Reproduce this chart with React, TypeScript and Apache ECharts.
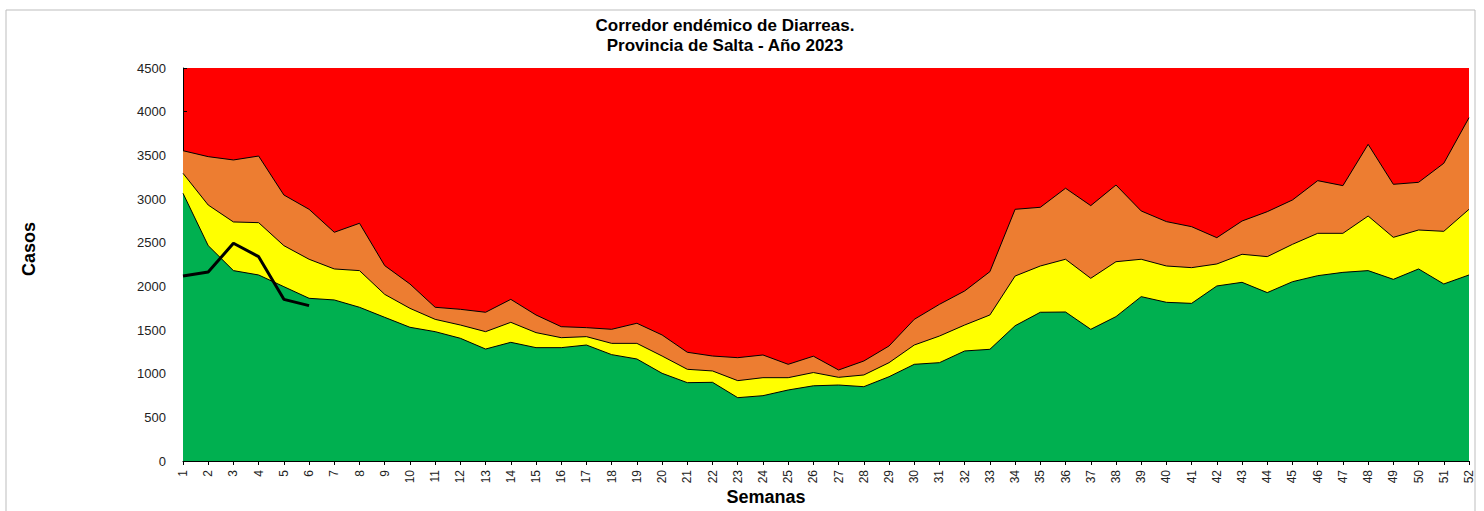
import React, { useEffect, useRef } from "react";
import * as echarts from "echarts";

const weeks: string[] = Array.from({ length: 52 }, (_, i) => String(i + 1));

// Upper boundary of the "alerta" (orange) zone
const alertTop: number[] = [
  3553, 3485, 3447, 3492, 3046, 2882, 2619, 2722, 2237, 2027,
  1760, 1737, 1703, 1851, 1672, 1538, 1527, 1508, 1577, 1443,
  1245, 1202, 1183, 1214, 1107, 1200, 1042, 1145, 1317, 1622,
  1794, 1947, 2168, 2882, 2905, 3123, 2924, 3160, 2863, 2741,
  2683, 2557, 2748, 2855, 2989, 3210, 3153, 3626, 3168, 3191,
  3409, 3931,
];

// Upper boundary of the "seguridad" (yellow) zone
const safetyTop: number[] = [
  3294, 2931, 2737, 2729, 2466, 2310, 2199, 2180, 1908, 1748,
  1622, 1557, 1481, 1588, 1470, 1412, 1424, 1347, 1347, 1202,
  1050, 1031, 920, 954, 954, 1013, 958, 985, 1126, 1328,
  1431, 1557, 1672, 2118, 2233, 2310, 2092, 2282, 2310, 2233,
  2214, 2256, 2367, 2340, 2481, 2607, 2607, 2805, 2561, 2645,
  2630, 2882,
];

// Upper boundary of the "éxito" (green) zone
const successTop: number[] = [
  3065, 2466, 2180, 2130, 1996, 1863, 1844, 1760, 1645, 1531,
  1481, 1405, 1282, 1359, 1298, 1298, 1328, 1218, 1168, 1004,
  897, 901, 725, 748, 813, 861, 870, 851, 965, 1107,
  1126, 1260, 1279, 1549, 1703, 1706, 1508, 1653, 1882, 1817,
  1805, 2004, 2046, 1928, 2053, 2122, 2160, 2180, 2080, 2199,
  2027, 2130,
];

// Casos 2023
const cases2023: number[] = [2118, 2164, 2493, 2340, 1851, 1779];

const yTicks = { min: 0, max: 4500, interval: 500 };

export default function App() {
  const ref = useRef<HTMLDivElement>(null);

  useEffect(() => {
    if (!ref.current) return;
    const chart = echarts.init(ref.current, undefined, { renderer: "svg" });
    const font = "'Liberation Sans', Arial, sans-serif";
    const areaSeries = (name: string, data: number[], color: string, z: number) => ({
      name,
      type: "line",
      data,
      symbol: "none",
      z,
      lineStyle: { color: "#000", width: 1 },
      areaStyle: { color, opacity: 1, origin: "start" },
    });
    chart.setOption({
      animation: false,
      backgroundColor: "#fff",
      textStyle: { fontFamily: font },
      title: {
        text: "Corredor endémico de Diarreas.\nProvincia de Salta - Año 2023",
        left: 720,
        top: 10,
        textAlign: "center",
        textStyle: {
          fontFamily: font,
          fontSize: 17,
          fontWeight: "bold",
          color: "#000",
          lineHeight: 20,
        },
      },
      grid: {
        left: 183,
        right: 15,
        top: 68,
        bottom: 50,
        show: true,
        backgroundColor: "#FF0000",
        borderWidth: 0,
      },
      xAxis: {
        type: "category",
        data: weeks,
        boundaryGap: false,
        axisLine: { show: true, lineStyle: { color: "#000", width: 1 } },
        axisTick: { show: true, interval: 0, length: 4, lineStyle: { color: "#000" } },
        axisLabel: {
          interval: 0,
          rotate: 90,
          fontSize: 12,
          color: "#222",
          fontFamily: font,
          margin: 9,
        },
        splitLine: { show: false },
      },
      yAxis: {
        type: "value",
        min: yTicks.min,
        max: yTicks.max,
        interval: yTicks.interval,
        axisLine: { show: true, lineStyle: { color: "#000", width: 1 } },
        axisTick: { show: true, length: 4, inside: true, lineStyle: { color: "#000" } },
        axisLabel: {
          fontSize: 13,
          color: "#222",
          fontFamily: font,
          margin: 17,
          formatter: (v: number) => String(v),
        },
        splitLine: { show: false },
      },
      series: [
        areaSeries("Alerta", alertTop, "#ED7D31", 2),
        areaSeries("Seguridad", safetyTop, "#FFFF00", 3),
        areaSeries("Éxito", successTop, "#00B050", 4),
        {
          name: "2023",
          type: "line",
          data: cases2023,
          symbol: "none",
          z: 5,
          lineStyle: { color: "#000", width: 3 },
        },
      ],
      graphic: [
        {
          type: "rect",
          shape: { x: 6, y: 10, width: 1469, height: 520 },
          style: { fill: "none", stroke: "#bdbdbd", lineWidth: 1 },
          silent: true,
          z: 0,
        },
        {
          type: "text",
          x: 766,
          y: 497,
          style: {
            text: "Semanas",
            fontFamily: font,
            fontSize: 18,
            fontWeight: "bold",
            fill: "#000",
            align: "center",
            verticalAlign: "middle",
          },
        },
        {
          type: "text",
          x: 29,
          y: 249,
          rotation: Math.PI / 2,
          style: {
            text: "Casos",
            fontFamily: font,
            fontSize: 18,
            fontWeight: "bold",
            fill: "#000",
            align: "center",
            verticalAlign: "middle",
          },
        },
      ],
    });
    return () => chart.dispose();
  }, []);

  return (
    <div
      ref={ref}
      style={{ position: "absolute", left: 0, top: 0, width: 1484, height: 511 }}
    />
  );
}
